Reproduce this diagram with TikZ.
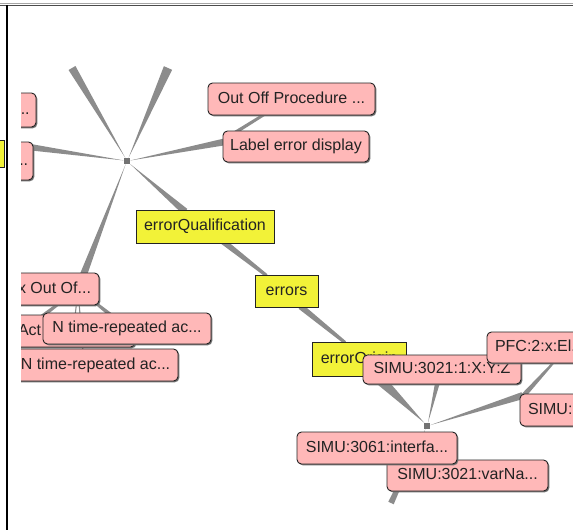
\documentclass[tikz,border=0pt]{standalone}
\usepackage{fontspec}
\setmainfont{Liberation Sans}
\usetikzlibrary{calc,shadows}
\pgfdeclarelayer{edges}
\pgfsetlayers{edges,main}
\definecolor{pinkc}{RGB}{255,184,184}
\definecolor{yelc}{RGB}{242,242,56}
\definecolor{edgec}{RGB}{140,140,140}
\definecolor{inkc}{RGB}{35,35,35}
\newcommand{\lblfont}{\fontsize{16pt}{18pt}\selectfont}
% tapered connector: thin at #1, half-width #3 at #2
\newcommand{\spoke}[3]{\fill[edgec] (#1) -- ($(#2)!#3!90:(#1)$) -- ($(#2)!#3!-90:(#1)$) -- cycle;}
% band: half-width #3 at #1, #4 at #2
\newcommand{\band}[4]{\fill[edgec] ($(#1)!#3!90:(#2)$) -- ($(#2)!#4!-90:(#1)$) -- ($(#2)!#4!90:(#1)$) -- ($(#1)!#3!-90:(#2)$) -- cycle;}
\begin{document}
\begin{tikzpicture}[x=1pt,y=-1pt,
  box/.style={line width=0.9pt, draw=inkc, inner sep=0pt, font=\lblfont, text=inkc,
    text height=11.5pt, text depth=3.5pt,
    drop shadow={shadow xshift=1.3pt, shadow yshift=-1.3pt, fill=black!55, opacity=1}},
  pinkbox/.style={box, fill=pinkc, rounded corners=4.5pt},
  yelbox/.style={box, fill=yelc},
  hubsq/.style={rectangle, fill=black!55, minimum size=6pt, inner sep=0pt}]
\useasboundingbox (0,0) rectangle (573,530);
\begin{pgfonlayer}{edges}
  \fill[white] (0,0) rectangle (573,530);
\end{pgfonlayer}

% hubs
\node[hubsq] (h1) at (127,161) {};
\node[hubsq] (h2) at (427,426) {};
\coordinate (h3) at (78,289);
\coordinate (ray1) at (72,68);
\coordinate (ray2) at (168,68);
\coordinate (stub) at (391,503);

\begin{scope}
\clip (21,7) rectangle (573,530);
\node[pinkbox, minimum width=26pt, minimum height=34pt] (lft1) at (23,110) {...};
\node[pinkbox, minimum width=23pt, minimum height=38pt] (lft2) at (21.5,161) {...};
\node[pinkbox, minimum width=167pt, minimum height=32pt] (oop) at (291.5,99) {Out Off Procedure ...};
\node[pinkbox, minimum width=146pt, minimum height=31pt] (led) at (296,146.5) {Label error display};
\node[yelbox, minimum width=138pt, minimum height=33pt] (eq) at (205,226.5) {errorQualification};
\node[yelbox, minimum width=63pt, minimum height=32pt] (err) at (286.5,291) {errors};
\node[yelbox, minimum width=94pt, minimum height=34pt] (eq2) at (359,359) {errorOrigin};
\node[pinkbox, minimum width=158pt, minimum height=29pt] (s1) at (442,369.5) {SIMU:3021:1:X:Y:Z};
\node[pinkbox, minimum width=170pt, minimum height=31pt, text width=154pt, align=left] (pfc) at (572,347.5) {PFC:2:x:El...};
\node[pinkbox, minimum width=160pt, minimum height=32pt, text width=144pt, align=left] (simr) at (600,410) {SIMU:};
\node[pinkbox, minimum width=89pt, minimum height=32pt] (xo) at (54.5,289) {x Out Of...};
\node[pinkbox, minimum width=125pt, minimum height=32pt, text width=109pt, align=left] (act) at (72.5,331) {Act};
\node[pinkbox, minimum width=168pt, minimum height=31pt] (nt1) at (127,328.5) {N time-repeated ac...};
\node[pinkbox, minimum width=165pt, minimum height=32pt] (nt2) at (95.5,365) {N time-repeated ac...};
\node[pinkbox, minimum width=161pt, minimum height=31pt] (svar) at (467.5,475.5) {SIMU:3021:varNa...};
\node[pinkbox, minimum width=160pt, minimum height=32pt] (s3061) at (377,448) {SIMU:3061:interfa...};
\end{scope}

% connector end points
\coordinate (eLft2) at (22,146);
\coordinate (eLed) at ([shift={(4pt,5pt)}]led.west);
\coordinate (sLed) at ([shift={(3pt,8pt)}]led.west);
\coordinate (eOop) at ([shift={(-24pt,3pt)}]oop.south);
\coordinate (eEq) at ([shift={(-20pt,-2pt)}]eq.north);
\coordinate (sEq) at ([shift={(18pt,2pt)}]eq.south);
\coordinate (tErr) at ([shift={(-20pt,-1pt)}]err.north);
\coordinate (sErr) at ([shift={(14pt,1pt)}]err.south);
\coordinate (tEq2) at ([shift={(-14pt,-1pt)}]eq2.north);
\coordinate (eS1) at ([shift={(-4pt,4pt)}]s1.south);
\coordinate (eSimr) at ([shift={(3pt,-2pt)}]simr.north west);
\coordinate (sSimr) at ([shift={(4pt,-2pt)}]simr.north west);
\coordinate (ePfc) at ([shift={(68pt,2pt)}]pfc.south west);
\coordinate (eAct) at (40,318);
\coordinate (eNt1) at (112,316);
\coordinate (eNt2a) at (72,345);
\coordinate (eNt2b) at (83,352);

\begin{pgfonlayer}{edges}
  \spoke{h1}{ray1}{4pt}
  \spoke{h1}{ray2}{4.5pt}
  \spoke{h1}{eLft2}{3.5pt}
  \spoke{h1}{eLed}{3.5pt}
  \spoke{h1}{eEq}{3.5pt}
  \spoke{h1}{h3}{4pt}
  \band{sLed}{eOop}{1.8pt}{1.4pt}
  \band{sEq}{tErr}{3pt}{1.6pt}
  \band{sErr}{tEq2}{3pt}{1.6pt}
  \spoke{h2}{eq2}{8pt}
  \spoke{h2}{eS1}{2.5pt}
  \spoke{h2}{eSimr}{3.5pt}
  \spoke{h2}{stub}{3pt}
  \band{sSimr}{ePfc}{2.5pt}{1pt}
  \band{h3}{eAct}{0.8pt}{2pt}
  \band{h3}{eNt1}{0.8pt}{2pt}
  \band{h3}{eNt2a}{0.5pt}{0.6pt}
  \band{h3}{eNt2b}{0.5pt}{0.6pt}
\end{pgfonlayer}

% window frame
\node[yelbox, minimum width=24pt, minimum height=27pt] (lefty) at (-8,153.5) {};
\draw[line width=1.2pt, black!35] (0,3.4) -- (573,3.4);
\draw[line width=1.6pt, black!70] (0,5.4) -- (573,5.4);
\draw[line width=2pt, black] (7,5) -- (7,530);
\end{tikzpicture}
\end{document}
